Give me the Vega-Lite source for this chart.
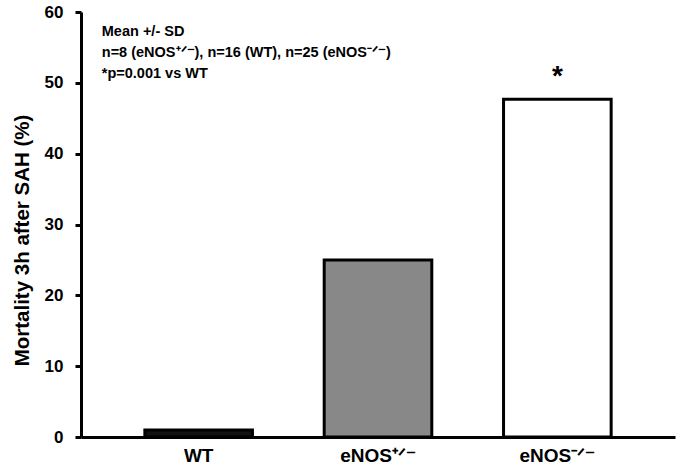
{
  "$schema": "https://vega.github.io/schema/vega-lite/v6.json",
  "width": 594,
  "height": 425,
  "autosize": {"type": "none"},
  "padding": {"left": 81, "top": 12, "right": 5, "bottom": 35},
  "background": "white",
  "config": {
    "view": {"stroke": null},
    "font": "Liberation Sans"
  },
  "datasets": {
    "bars": [
      {"group": "WT", "mortality": 1, "sig": ""},
      {"group": "eNOS⁺ᐟ⁻", "mortality": 25, "sig": ""},
      {"group": "eNOS⁻ᐟ⁻", "mortality": 47.7, "sig": "*"}
    ],
    "notes": [
      {"pos": 0.035, "yv": 56.6, "note": "Mean +/- SD"},
      {"pos": 0.035, "yv": 53.6, "note": "n=8 (eNOS⁺ᐟ⁻), n=16 (WT), n=25 (eNOS⁻ᐟ⁻)"},
      {"pos": 0.035, "yv": 50.7, "note": "*p=0.001 vs WT"}
    ]
  },
  "layer": [
    {
      "data": {"name": "bars"},
      "layer": [
        {
          "mark": {"type": "bar", "stroke": "black", "strokeWidth": 3},
          "encoding": {
            "x": {
              "field": "group", "type": "nominal", "sort": null,
              "scale": {"paddingInner": 0.4, "paddingOuter": 0.356},
              "axis": {
                "title": null, "labelAngle": 0, "ticks": false,
                "domainColor": "black", "domainWidth": 3,
                "labelFont": "Liberation Sans", "labelFontWeight": "bold",
                "labelFontSize": 19, "labelColor": "black", "labelPadding": 9
              }
            },
            "y": {
              "field": "mortality", "type": "quantitative",
              "scale": {"domain": [0, 60], "nice": false},
              "axis": {
                "title": "Mortality 3h after SAH (%)",
                "values": [0, 10, 20, 30, 40, 50, 60],
                "grid": false,
                "domainColor": "black", "domainWidth": 3,
                "tickColor": "black", "tickWidth": 3, "tickSize": 6,
                "labelFont": "Liberation Sans", "labelFontWeight": "bold",
                "labelFontSize": 17, "labelColor": "black", "labelPadding": 12,
                "titleFont": "Liberation Sans", "titleFontWeight": "bold",
                "titleFontSize": 20.5, "titleColor": "black", "titlePadding": 12,
                "titleY": 228
              }
            },
            "fill": {
              "field": "group", "type": "nominal", "sort": null,
              "scale": {"range": ["#111111", "#888888", "#ffffff"]},
              "legend": null
            }
          }
        },
        {
          "mark": {"type": "text", "baseline": "bottom", "dy": -8, "fontSize": 28, "fontWeight": "bold", "font": "Liberation Sans", "color": "black"},
          "encoding": {
            "x": {"field": "group", "type": "nominal", "sort": null},
            "y": {"field": "mortality", "type": "quantitative"},
            "text": {"field": "sig"}
          }
        }
      ]
    },
    {
      "data": {"name": "notes"},
      "mark": {"type": "text", "align": "left", "baseline": "alphabetic", "fontSize": 14.5, "fontWeight": "bold", "font": "Liberation Sans", "color": "black"},
      "encoding": {
        "x": {"field": "pos", "type": "quantitative", "scale": {"domain": [0, 1]}, "axis": null},
        "y": {"field": "yv", "type": "quantitative"},
        "text": {"field": "note"}
      }
    }
  ],
  "resolve": {"scale": {"x": "independent"}}
}
